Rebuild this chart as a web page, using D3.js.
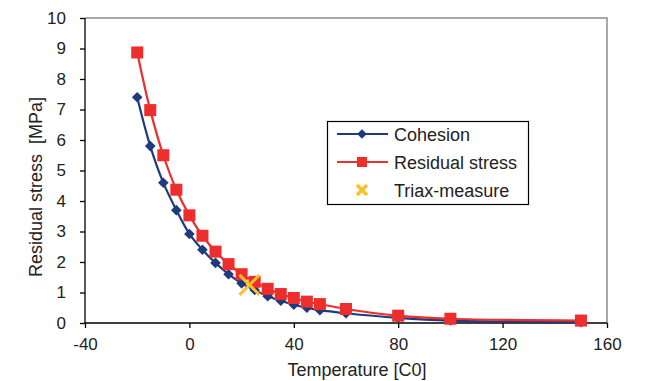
<!DOCTYPE html>
<html><head><meta charset="utf-8">
<script src="https://cdn.jsdelivr.net/npm/d3@7/dist/d3.min.js"></script>
<style>body{margin:0;background:#fff}svg{display:block}text{font-family:"Liberation Sans",Arial,sans-serif;fill:#222}</style>
</head><body>
<svg id="c" width="646" height="381"></svg>
<script>
const temperatures = [-20,-15,-10,-5,0,5,10,15,20,25,30,35,40,45,50,60,80,100,150];
const cohesion = [7.4,5.8,4.6,3.7,2.92,2.4,1.97,1.6,1.3,1.08,0.88,0.73,0.6,0.5,0.42,0.32,0.17,0.08,0.03];
const residualStress = [8.87,6.98,5.5,4.37,3.53,2.86,2.34,1.93,1.6,1.35,1.12,0.95,0.82,0.7,0.62,0.46,0.24,0.14,0.08];
const triaxT = [23];
const triaxV = [1.25];
const xTicks = [-40,0,40,80,120,160];
const yTicks = [0,1,2,3,4,5,6,7,8,9,10];

const svg = d3.select("#c");
const L=85,R=607,T=18,B=323;
const x = d3.scaleLinear().domain([-40,160]).range([L,R]);
const y = d3.scaleLinear().domain([0,10]).range([B,T]);

svg.append("path").attr("d",`M${L},${T}H${R}V${B}`).attr("fill","none").attr("stroke","#8a8a8a").attr("stroke-width",1.5);

const fmt = d => String(d);
const xa = svg.append("g").attr("transform",`translate(0,${B})`)
  .call(d3.axisBottom(x).tickValues(xTicks).tickSize(5).tickPadding(10).tickFormat(fmt));
const ya = svg.append("g").attr("transform",`translate(${L},0)`)
  .call(d3.axisLeft(y).tickValues(yTicks).tickSize(5).tickPadding(14).tickFormat(fmt));
[xa,ya].forEach(a=>{a.selectAll("path,line").attr("stroke","#000").attr("stroke-width",1.3);
  a.selectAll("text").style("font-size","17px").style("font-family","Liberation Sans, Arial, sans-serif").attr("fill","#222");});
xa.select(".domain").attr("d",`M${L},0H${R}`);
ya.select(".domain").attr("d",`M0,${B}V${T}`);

svg.append("text").attr("x",357).attr("y",376).attr("text-anchor","middle").style("font-size","18px").text("Temperature [C0]");
svg.append("text").attr("transform",`translate(42,187) rotate(-90)`).attr("text-anchor","middle").style("font-size","18px").style("white-space","pre").text("Residual stress  [MPa]");

const blue="#1f3a7d", red="#ee2d2d", yellow="#fcc02a";
const line = d3.line().curve(d3.curveCatmullRom.alpha(0.5));
const cohPts = temperatures.map((t,i)=>[x(t),y(cohesion[i])]);
const resPts = temperatures.map((t,i)=>[x(t),y(residualStress[i])]);

svg.append("path").attr("d",line(cohPts)).attr("fill","none").attr("stroke",blue).attr("stroke-width",2.2);
svg.selectAll(".dia").data(cohPts).join("path").attr("transform",d=>`translate(${d[0]},${d[1]})`)
  .attr("d",d3.symbol(d3.symbolDiamond2,72)).attr("fill",blue);

svg.append("path").attr("d",line(resPts)).attr("fill","none").attr("stroke",red).attr("stroke-width",2.2);
svg.selectAll(".sq").data(resPts).join("rect").attr("x",d=>d[0]-6).attr("y",d=>d[1]-6).attr("width",12).attr("height",12).attr("fill",red);

function cross(g,cx,cy,r,w){g.append("path").attr("d",`M${cx-r},${cy-r}L${cx+r},${cy+r}M${cx-r},${cy+r}L${cx+r},${cy-r}`)
  .attr("stroke",yellow).attr("stroke-width",w).attr("fill","none");}
triaxT.forEach((t,i)=>cross(svg,x(t),y(triaxV[i]),10,3));

const lg = svg.append("g");
lg.append("rect").attr("x",327.5).attr("y",121.5).attr("width",201).attr("height",83).attr("fill","#fff").attr("stroke","#000").attr("stroke-width",1.2);
const items=[["Cohesion",134],["Residual stress",162],["Triax-measure",190]];
lg.append("line").attr("x1",337).attr("x2",388).attr("y1",134).attr("y2",134).attr("stroke",blue).attr("stroke-width",2.2);
lg.append("path").attr("transform","translate(362,134)").attr("d",d3.symbol(d3.symbolDiamond2,60)).attr("fill",blue);
lg.append("line").attr("x1",337).attr("x2",388).attr("y1",162).attr("y2",162).attr("stroke",red).attr("stroke-width",2.2);
lg.append("rect").attr("x",357).attr("y",157).attr("width",10).attr("height",10).attr("fill",red);
cross(lg,362,190,5,3.5);
items.forEach(([t,yy])=>lg.append("text").attr("x",394).attr("y",yy+6.5).style("font-size","18px").text(t));
</script>
</body></html>
